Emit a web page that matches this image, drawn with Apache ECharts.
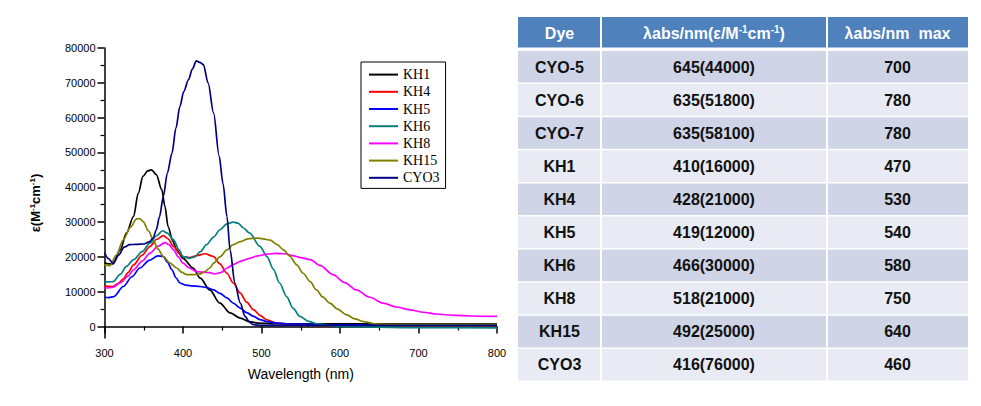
<!DOCTYPE html>
<html><head><meta charset="utf-8">
<script src="https://cdn.jsdelivr.net/npm/echarts@6/dist/echarts.min.js"></script>
<style>html,body{margin:0;padding:0;background:#fff}#c{width:981px;height:406px}</style>
</head><body><div id="c"></div>
<script>
// ---------- chart data (wavelength nm, epsilon M-1 cm-1) ----------
const seriesNames = ['KH1', 'KH4', 'KH5', 'KH6', 'KH8', 'KH15', 'CYO3'];
const seriesColors = ['#000000', '#ff0000', '#0000ff', '#008080', '#ff00ff', '#808000', '#000080'];

const kh1 = [[300,18300],[305,18000],[311,18000],[320,22000],[328,26800],[337,31600],[343,38300],[349,43100],[355,44700],[360,45000],[366,43600],[373,39300],[377,34500],[381,28700],[387,24500],[392,22000],[400,19600],[413,16800],[422,13900],[434,10500],[447,6700],[460,3900],[473,2400],[485,1400],[495,1000],[520,800],[600,800],[700,800],[800,800]];
const kh4 = [[300,11600],[310,11500],[317,12300],[324,13700],[330,15500],[337,17700],[348,20500],[358,23000],[366,25000],[375,26100],[381,25200],[388,23000],[395,21000],[400,20100],[408,19800],[418,20400],[428,20900],[439,20100],[447,18000],[456,15300],[464,12500],[473,9600],[481,7000],[490,4800],[498,3200],[507,1900],[519,1000],[540,500],[600,300],[700,300],[800,300]];
const kh5 = [[300,8400],[305,8300],[312,8600],[324,11500],[335,14300],[345,16800],[357,19000],[368,20300],[375,20100],[380,18500],[386,16300],[391,14000],[396,12500],[403,11900],[410,11700],[422,11500],[430,11200],[439,10500],[447,9500],[456,8200],[464,6700],[473,5300],[481,4000],[490,2900],[498,2000],[507,1400],[520,1000],[532,800],[600,500],[700,500],[800,500]];
const kh6 = [[300,12900],[305,12800],[311,12900],[320,15000],[328,17300],[337,19200],[348,21500],[358,24000],[366,26000],[374,27500],[380,26800],[388,24900],[395,22000],[400,20100],[409,19600],[415,20000],[422,21500],[430,23500],[439,25700],[447,27800],[456,29500],[464,30000],[470,29700],[477,28300],[485,26800],[498,23000],[507,20100],[515,16500],[523,12500],[532,8600],[540,5300],[549,2900],[560,1500],[570,800],[600,0],[700,-300],[800,-400]];
const kh8 = [[300,11000],[310,11200],[320,12500],[330,14500],[337,16300],[348,18800],[358,21100],[368,23000],[377,24100],[382,23500],[388,22000],[394,20000],[400,18200],[408,16800],[417,15800],[425,15600],[434,15500],[440,15100],[448,15500],[456,16800],[464,17800],[473,18700],[485,19600],[495,20300],[507,20800],[518,21000],[530,20900],[541,20300],[550,19800],[562,19200],[575,17500],[591,14900],[606,12600],[621,10500],[638,8400],[655,6700],[672,5600],[689,4800],[706,4100],[723,3600],[740,3300],[757,3100],[780,2950],[800,2900]];
const kh15 = [[300,17700],[307,17500],[315,20500],[324,24900],[333,28500],[341,30900],[345,31000],[349,30200],[356,27500],[362,24900],[368,22300],[375,20100],[383,18300],[392,16800],[398,15600],[405,14900],[413,14900],[422,15100],[428,15800],[434,16800],[439,18200],[447,20000],[456,22000],[464,23500],[473,24400],[483,25200],[494,25400],[502,25200],[511,24800],[520,23500],[528,22000],[536,20200],[545,17700],[553,15300],[562,12900],[570,10500],[578,8500],[587,6700],[597,5000],[608,3400],[619,2200],[630,1400],[647,700],[670,600],[700,600],[800,600]];
const cyo3 = [[300,21200],[305,19500],[311,18200],[318,20500],[325,22800],[332,23500],[340,23600],[350,23700],[357,24300],[362,25400],[366,27800],[370,31500],[375,37400],[380,44000],[386,49800],[391,57000],[396,63200],[401,67500],[407,70900],[412,74000],[417,76300],[422,75800],[426,75200],[432,69900],[439,61300],[446,49000],[451,41000],[456,31600],[460,22000],[466,12500],[473,6700],[479,2900],[485,1200],[490,500],[500,300],[600,300],[700,300],[800,300]];
const seriesData = [kh1, kh4, kh5, kh6, kh8, kh15, cyo3];

const yMajorTicks = [0, 10000, 20000, 30000, 40000, 50000, 60000, 70000, 80000];
const yMinorTicks = [5000, 15000, 25000, 35000, 45000, 55000, 65000, 75000];

// ---------- table data ----------
const tableDyes = ['CYO-5', 'CYO-6', 'CYO-7', 'KH1', 'KH4', 'KH5', 'KH6', 'KH8', 'KH15', 'CYO3'];
const tablePeakNm = [645, 635, 635, 410, 428, 419, 466, 518, 492, 416];
const tablePeakEps = [44000, 51800, 58100, 16000, 21000, 12000, 30000, 21000, 25000, 76000];
const tableMaxNm = [700, 780, 780, 470, 530, 540, 580, 750, 640, 460];

// ---------- build ----------
const chart = echarts.init(document.getElementById('c'), null, {renderer: 'svg'});

const graphics = [];
// y axis title
graphics.push({
  type: 'text', x: 35, y: 203, rotation: Math.PI / 2,
  style: {
    text: 'ε(M{s|-1}cm{s|-1})',
    fontFamily: 'Arial, Liberation Sans', fontSize: 13, fontWeight: 'bold', fill: '#000',
    align: 'center', verticalAlign: 'middle',
    rich: { s: { fontSize: 8, fontWeight: 'bold', fontFamily: 'Arial, Liberation Sans', verticalAlign: 'top', padding: [0, 0, 6, 0] } }
  }
});

// table layout
const colX = [518, 601, 827, 968];
const headTop = 17, headBottom = 47.5, rowTop = 50.5, rowH = 33.1;
const headerFill = '#4F81BD', bandDark = '#CFD5E6', bandLight = '#E8EBF3';
const font = 'Arial, Liberation Sans';
for (let c = 0; c < 3; c++) {
  graphics.push({ type: 'rect', shape: { x: colX[c] + (c ? 1 : 0), y: headTop, width: colX[c + 1] - colX[c] - (c ? 1 : 0) - (c < 2 ? 1 : 0), height: headBottom - headTop }, style: { fill: headerFill } });
}
const headerTexts = ['Dye', 'λabs/nm(ε/M{s|-1}cm{s|-1})', 'λabs/nm\u00a0 max'];
headerTexts.forEach((t, c) => {
  graphics.push({ type: 'text', x: (colX[c] + colX[c + 1]) / 2, y: (headTop + headBottom) / 2 + 1,
    style: { text: t, fontFamily: font, fontSize: 16, fontWeight: 'bold', fill: '#fff', align: 'center', verticalAlign: 'middle',
      rich: { s: { fontSize: 10, fontWeight: 'bold', fontFamily: font, fill: '#fff', verticalAlign: 'top', padding: [0, 0, 7, 0] } } } });
});
tableDyes.forEach((d, r) => {
  const top = rowTop + r * rowH;
  const fill = r % 2 === 0 ? bandDark : bandLight;
  const cells = [d, tablePeakNm[r] + '(' + tablePeakEps[r] + ')', String(tableMaxNm[r])];
  for (let c = 0; c < 3; c++) {
    graphics.push({ type: 'rect', shape: { x: colX[c] + (c ? 1 : 0), y: top + 0.5, width: colX[c + 1] - colX[c] - (c ? 1 : 0) - (c < 2 ? 1 : 0), height: rowH - 1.5 }, style: { fill: fill } });
    graphics.push({ type: 'text', x: (colX[c] + colX[c + 1]) / 2, y: top + rowH / 2,
      style: { text: cells[c], fontFamily: font, fontSize: 16, fontWeight: 'bold', fill: '#111', align: 'center', verticalAlign: 'middle' } });
  }
});

const axisBlack = { color: '#000', width: 1.5 };
chart.setOption({
  animation: false,
  backgroundColor: '#fff',
  grid: { left: 104.5, top: 48, width: 392.5, height: 290, containLabel: false },
  legend: {
    orient: 'vertical', left: 361, top: 62,
    data: seriesNames,
    icon: 'rect', itemWidth: 29, itemHeight: 2, itemGap: 0,
    backgroundColor: '#fff', borderColor: '#000', borderWidth: 1, padding: [4, 6, 2, 8],
    textStyle: { fontFamily: 'Times New Roman, Liberation Serif', fontSize: 14, color: '#000', lineHeight: 17.2 }
  },
  xAxis: {
    type: 'value', min: 300, max: 800, interval: 100,
    name: 'Wavelength (nm)', nameLocation: 'middle', nameGap: 29,
    nameTextStyle: { fontFamily: 'Arial, Liberation Sans', fontSize: 14, color: '#000' },
    axisLine: { lineStyle: axisBlack },
    axisTick: { length: 7, lineStyle: axisBlack },
    minorTick: { show: true, splitNumber: 2, length: 4, lineStyle: { color: '#000', width: 1.2 } },
    axisLabel: { margin: 9, fontFamily: 'Arial, Liberation Sans', fontSize: 11, color: '#000', formatter: v => String(v) },
    splitLine: { show: false }, minorSplitLine: { show: false }
  },
  yAxis: [{
    type: 'value', min: -3300, max: 80000,
    axisLine: { show: true, lineStyle: axisBlack },
    axisTick: { show: true, length: 7, customValues: yMajorTicks, lineStyle: axisBlack },
    axisLabel: { margin: 9, customValues: yMajorTicks, fontFamily: 'Arial, Liberation Sans', fontSize: 11, color: '#000', formatter: v => String(v) },
    splitLine: { show: false }
  }, {
    type: 'value', min: -3300, max: 80000, position: 'left',
    axisLine: { show: false },
    axisTick: { show: true, length: 4, customValues: yMinorTicks, lineStyle: { color: '#000', width: 1.2 } },
    axisLabel: { show: false, customValues: yMinorTicks },
    splitLine: { show: false }
  }],
  series: seriesNames.map((n, i) => ({
    name: n, type: 'line', data: seriesData[i], yAxisIndex: 0,
    showSymbol: false, smooth: 0.3, smoothMonotone: 'x',
    lineStyle: { color: seriesColors[i], width: 1.7 }, itemStyle: { color: seriesColors[i] },
    z: i === 6 ? 3 : 2
  })),
  graphic: graphics
});
</script>
</body></html>
